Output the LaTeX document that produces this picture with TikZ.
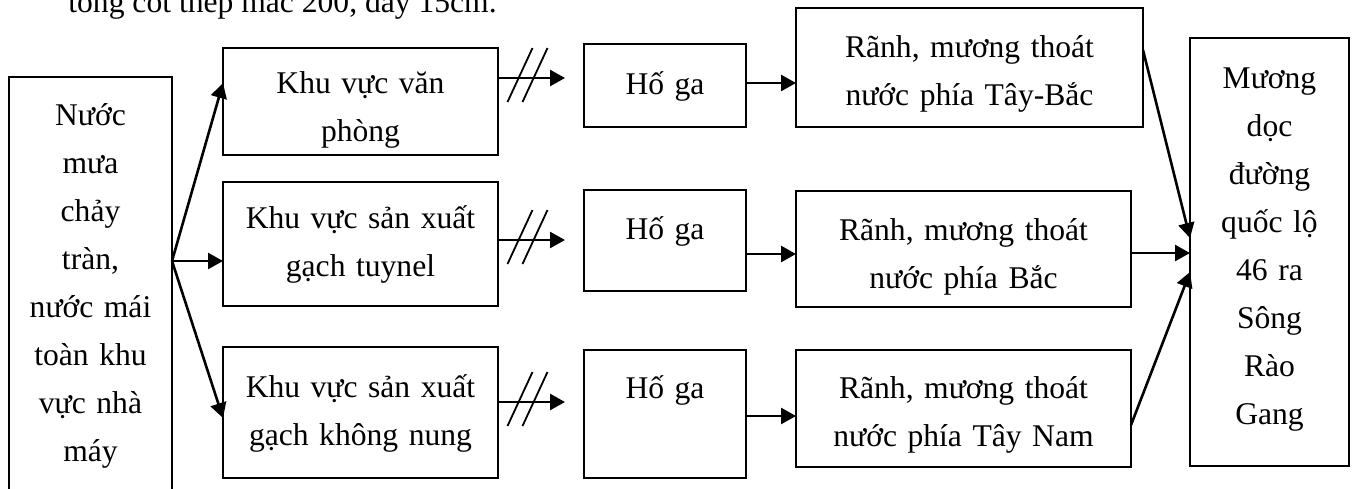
\documentclass[tikz,border=0pt]{standalone}
\usepackage{fontspec}
\setmainfont{Liberation Serif}
\usetikzlibrary{arrows.meta,positioning}

\begin{document}
\begin{tikzpicture}[box/.style={draw,line width=1pt,align=center,inner xsep=0pt,inner ysep=0pt,outer sep=0pt,font=\fontsize{15.8}{24}\selectfont,text height=24pt},
  flow/.style={-{Triangle[length=7.5pt,width=8pt]},line width=1.3pt},
  slash/.style={line width=.9pt}]
\useasboundingbox (0pt,0pt) rectangle (677pt,-244pt);
\node[anchor=base west,inner sep=0pt,font=\fontsize{15.8}{24}\selectfont] (txt) at (34pt,-6pt) {tông cốt thép mác 200, dày 15cm.};
\node[box,text width=81.5pt,text depth=214pt,anchor=north west] (src) at (4.5pt,-38.5pt) {Nước\\mưa\\chảy\\tràn,\\nước mái\\toàn khu\\vực nhà\\máy};
\node[box,text width=137.5pt,text height=22.5pt,text depth=31pt,right=25.5pt of src.north east,anchor=north west,yshift=14.5pt] (vp) {Khu vực văn\\phòng};
\node[box,text width=137.5pt,text height=23pt,text depth=39pt,below=13.5pt of vp] (tuy) {Khu vực sản xuất\\gạch tuynel};
\node[box,text width=137.5pt,text height=25pt,text depth=40.5pt,below=20.5pt of tuy] (kn) {Khu vực sản xuất\\gạch không nung};
\node[box,text width=81pt,text height=25pt,text depth=16.5pt,right=43pt of vp.north east,anchor=north west,yshift=2pt] (hg1) {Hố ga};
\node[box,text width=81pt,text height=24.5pt,text depth=26pt,below=31.5pt of hg1] (hg2) {Hố ga};
\node[box,text width=81pt,text depth=40pt,below=29.5pt of hg2] (hg3) {Hố ga};
\node[box,text width=173.5pt,text height=24.5pt,text depth=35pt,right=25pt of hg1.north east,anchor=north west,yshift=18pt] (rn1) {Rãnh, mương thoát\\nước phía Tây-Bắc};
\node[box,text width=167.5pt,text height=24.5pt,text depth=33.5pt,below=32pt of rn1.south west,anchor=north west] (rn2) {Rãnh, mương thoát\\nước phía Bắc};
\node[box,text width=167.5pt,text depth=34.5pt,below=21.5pt of rn2] (rn3) {Rãnh, mương thoát\\nước phía Tây Nam};
\node[box,text width=79.5pt,text height=25pt,text depth=189pt,right=23.5pt of rn1.north east,anchor=north west,yshift=-15pt] (dst) {Mương\\dọc\\đường\\quốc lộ\\46 ra\\Sông\\Rào\\Gang};
\coordinate (fork) at ([yshift=27pt]src.east);
\draw[flow] (fork) -- ([yshift=9.25pt]vp.west);
\draw[flow] (fork) -- (fork -| tuy.west);
\draw[flow] (fork) -- ([yshift=-2.75pt]kn.west);
\foreach \a/\b/\dy in {vp/hg1/11.75pt,tuy/hg2/2pt,kn/hg3/5.25pt}{
  \draw[flow,shorten >=9.5pt] ([yshift=\dy]\a.east) coordinate (s\a) -- (s\a -| \b.west);
  \draw[slash] ([xshift=11pt,yshift=1.5pt]s\a) +(-6.25pt,-13.5pt) -- +(6.25pt,13.5pt)
    ++(7.5pt,0pt) +(-6.25pt,-13.5pt) -- +(6.25pt,13.5pt);
}
\foreach \a/\b/\dy in {hg1/rn1/1.25pt,hg2/rn2/-6.75pt,hg3/rn3/-1pt}
  \draw[flow] ([yshift=\dy]\a.east) -- ([yshift=\dy]\a.east -| \b.west);
\draw[flow] ([yshift=8.75pt]rn1.east) -- ([yshift=7pt]dst.west);
\draw[flow] ([yshift=-2pt]rn2.east) -- ([yshift=-2pt]rn2.east -| dst.west);
\draw[flow] ([yshift=-8.25pt]rn3.east) -- ([yshift=-10pt]dst.west);
\end{tikzpicture}
\end{document}
